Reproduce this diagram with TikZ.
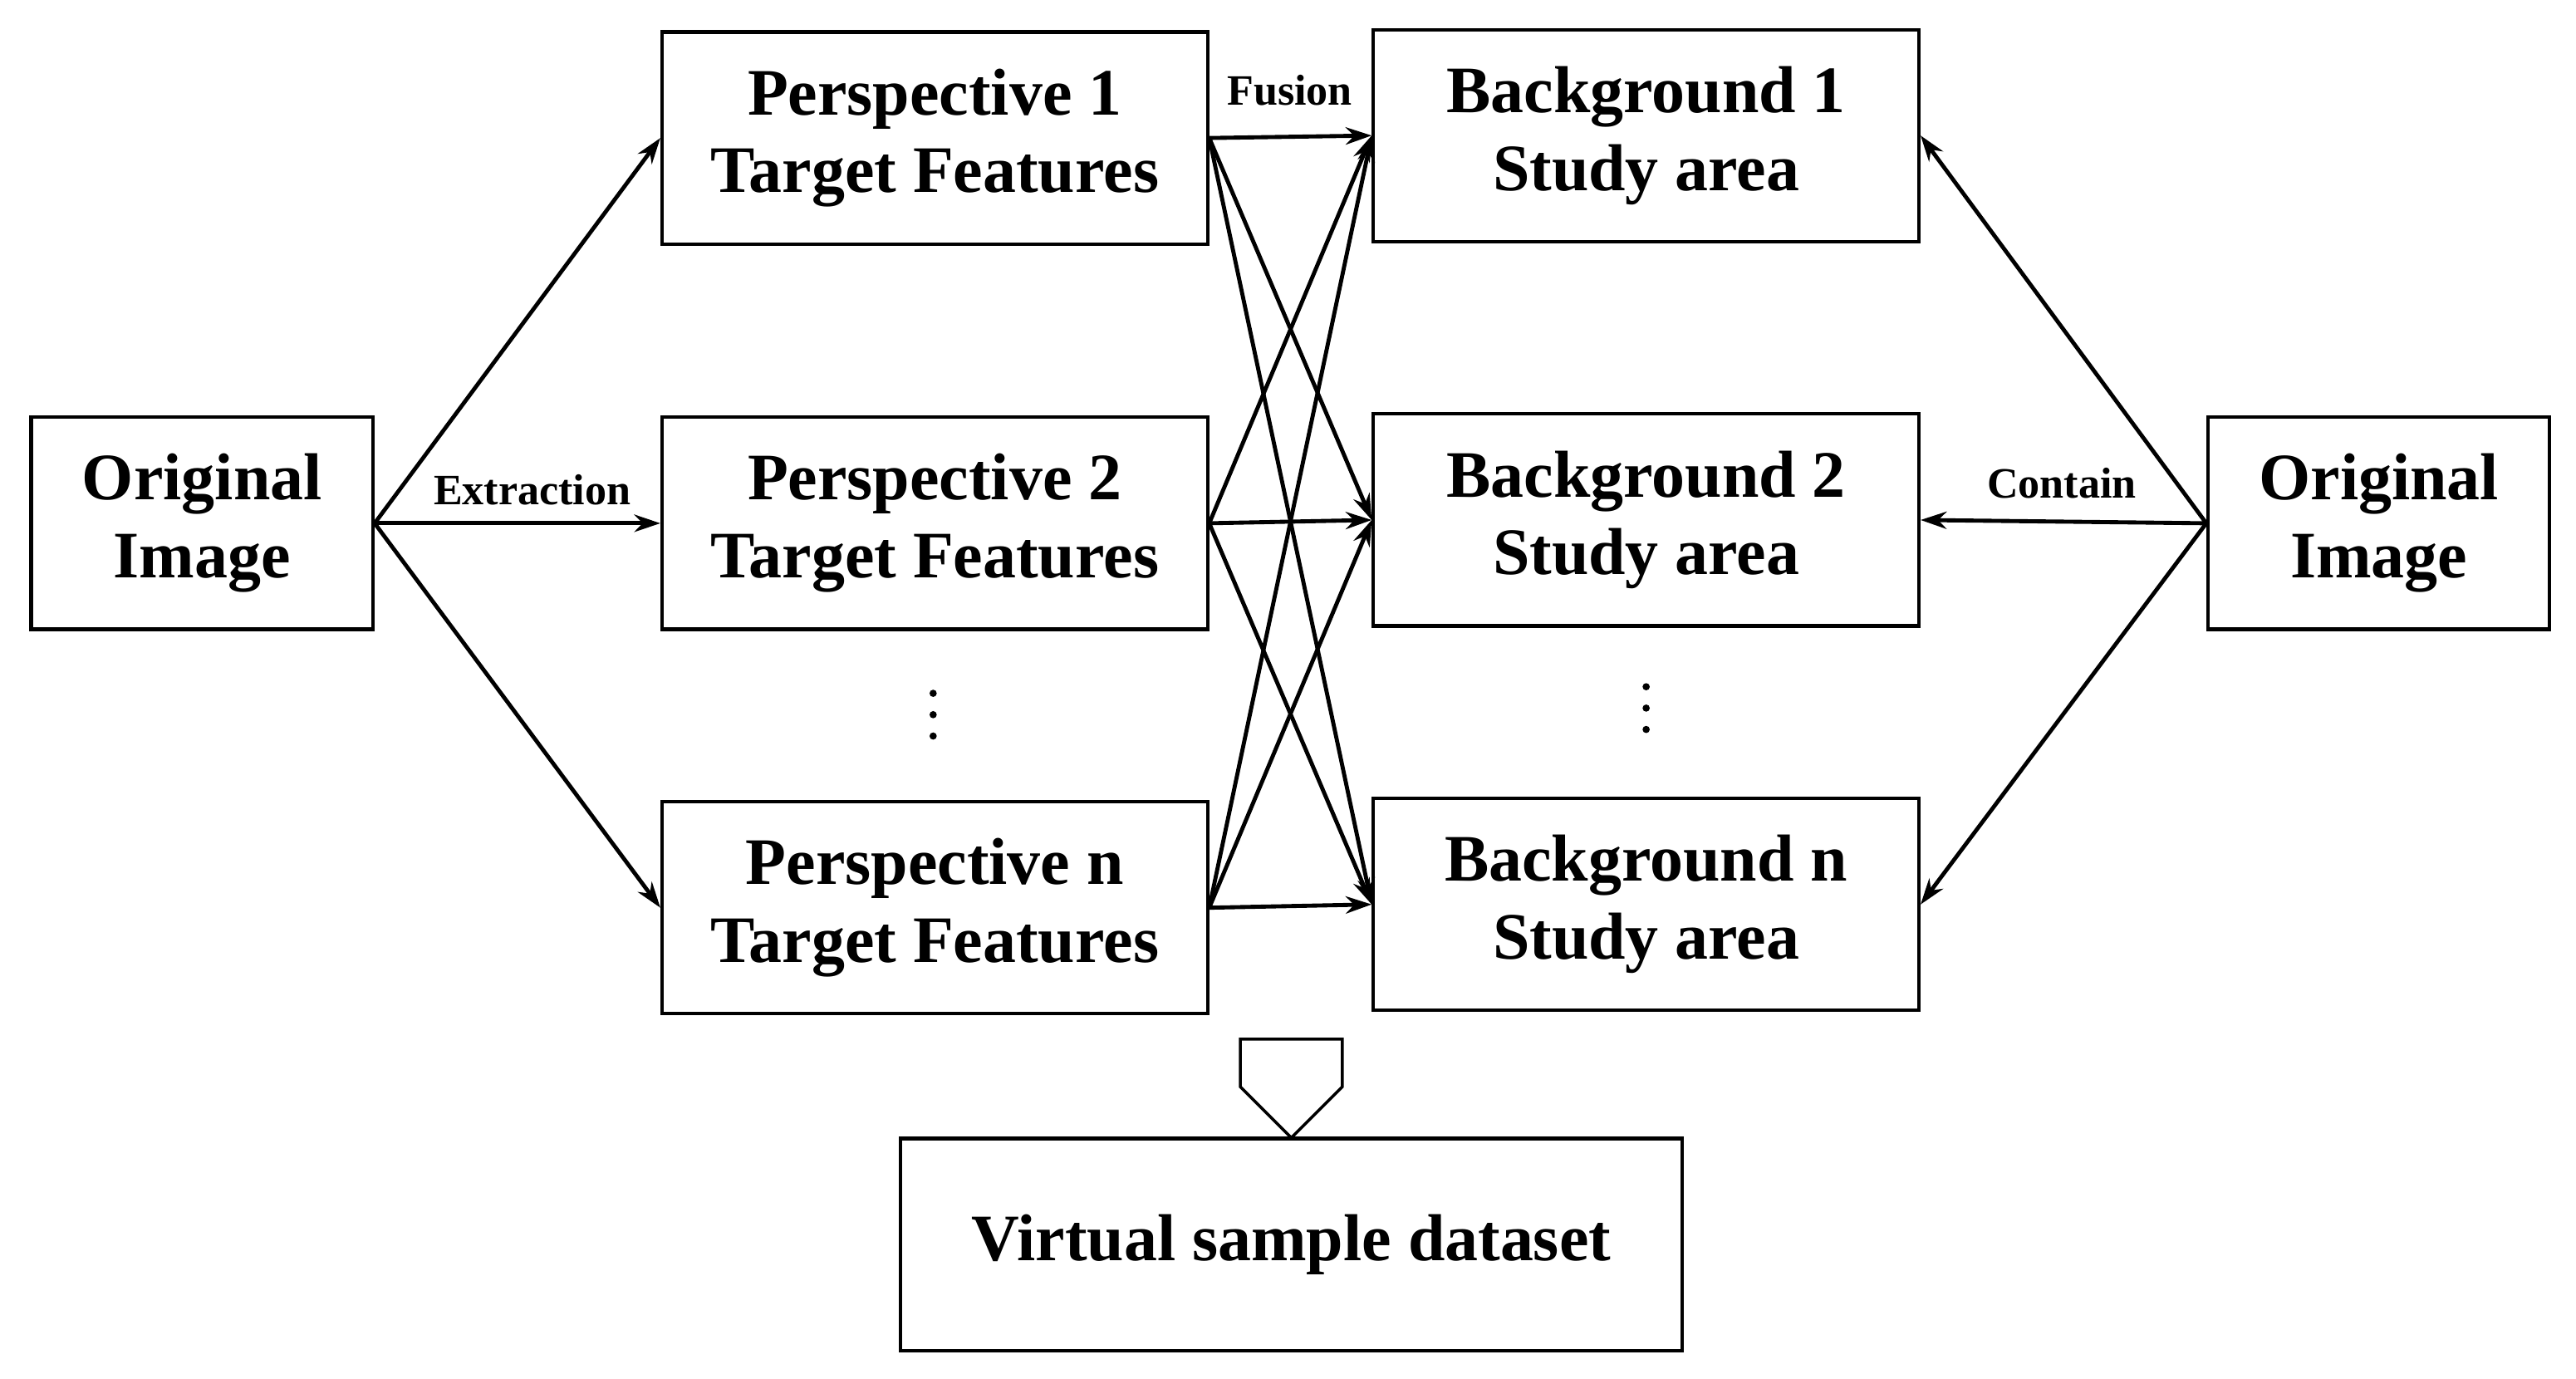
\documentclass[tikz,border=0pt]{standalone}
\usepackage{fontspec}
\setmainfont{Liberation Serif}
\usetikzlibrary{arrows.meta,shapes.arrows}
\begin{document}
\begin{tikzpicture}[x=0.02cm,y=-0.02cm,
 box/.style={draw,line width=1.2pt,inner sep=0pt,align=center,font=\fontsize{23}{27}\selectfont\bfseries},
 arr/.style={-{Stealth[length=9pt,width=6pt]},line width=1.4pt},
 lab/.style={font=\fontsize{15}{18}\selectfont\bfseries}]
\useasboundingbox (0,0) rectangle (1568,839);
\node[box,minimum width=208*0.02cm,minimum height=129*0.02cm] (oi1) at (123,318.5) {Original\\Image};
\node[box,minimum width=208*0.02cm,minimum height=129*0.02cm] (oi2) at (1448,318.5) {Original\\Image};
\foreach \n/\t/\y in {p1/1/84,p2/2/318.5,pn/n/552.5}
 \node[box,minimum width=332*0.02cm,minimum height=129*0.02cm] (\n) at (569,\y) {Perspective \t\\Target Features};
\foreach \n/\t/\y in {b1/1/82.5,b2/2/316.5,bn/n/550.5}
 \node[box,minimum width=332*0.02cm,minimum height=129*0.02cm] (\n) at (1002,\y) {Background \t\\Study area};
\node[box,minimum width=476*0.02cm,minimum height=129*0.02cm] (vs) at (786,757.5) {Virtual sample dataset};
\foreach \p in {p1,p2,pn} \draw[arr] (oi1.east) -- (\p.west);
\foreach \p in {p1,p2,pn} \foreach \b in {b1,b2,bn} \draw[arr] (\p.east) -- (\b.west);
\foreach \b in {b1,b2,bn} \draw[arr] (oi2.west) -- (\b.east);
\node[lab] at (324,298) {Extraction};
\node[lab] at (785,55) {Fusion};
\node[lab] at (1255,294) {Contain};
\foreach \x/\y in {568/435,1002/431} \foreach \d in {-13,0,13} \fill (\x,\y+\d) circle (2.2);
\node[draw,line width=1pt,shape=single arrow,shape border rotate=270,minimum height=60*0.02cm,minimum width=62*0.02cm,single arrow head extend=0pt,single arrow tip angle=90,inner sep=0pt] (ha) at (786,647) {};
\end{tikzpicture}
\end{document}
